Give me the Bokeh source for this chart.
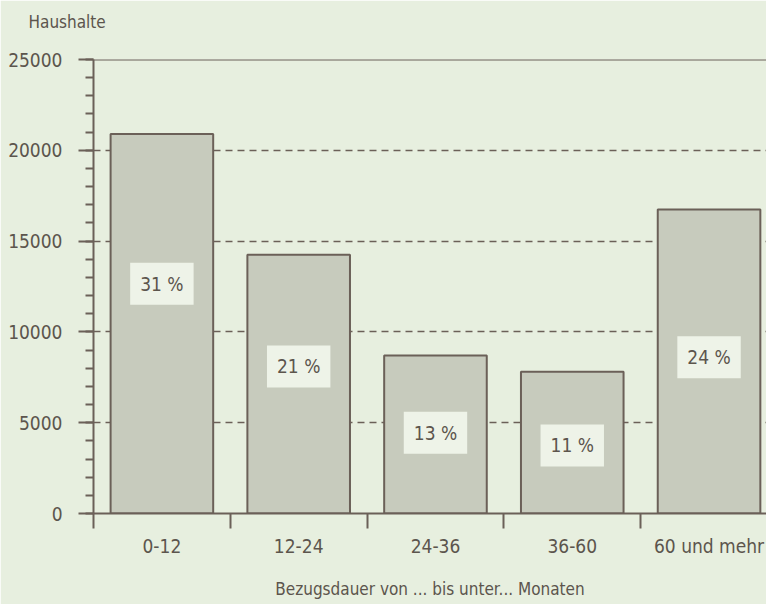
from bokeh.plotting import figure
from bokeh.models import Range1d, FixedTicker, Span, Title, ColumnDataSource
from bokeh.core.properties import value
from bokeh.embed import file_html
from bokeh.resources import INLINE

categories = ["0-12", "12-24", "24-36", "36-60", "60 und mehr"]
households = [20900, 14250, 8700, 7800, 16740]
share_labels = ["31 %", "21 %", "13 %", "11 %", "24 %"]
label_y = [12650, 8100, 4450, 3750, 8600]
y_ticks = [0, 5000, 10000, 15000, 20000, 25000]
grid_levels = [5000, 10000, 15000, 20000]

BG = "#e7efdf"
BAR = "#c7cbbd"
INK = "#6b6058"
TXT = "#5c554d"
FONT = "'DejaVu Sans Condensed', Roboto"

centers = [i + 0.5 for i in range(len(categories))]
src = ColumnDataSource(dict(x=centers, top=households, lab=share_labels, ly=label_y))

p = figure(width=766, height=604, output_backend="svg", toolbar_location=None,
           x_range=Range1d(0, 4.92), y_range=Range1d(0, 25000),
           min_border_left=93, min_border_right=0, min_border_top=59, min_border_bottom=91,
           background_fill_color=BG, border_fill_color=BG, outline_line_color=None)

p.vbar(x="x", top="top", width=0.75, source=src, fill_color=BAR,
       line_color=INK, line_width=2)

p.text(x="x", y="ly", text="lab", source=src, text_align="center", text_baseline="middle",
       text_font=value(FONT), text_font_size="19px", text_color=TXT,
       background_fill_color="#eef3e8", padding=10)

p.add_layout(Span(location=25000, dimension="width", line_color=INK, line_width=2))

# y axis
ya = p.yaxis[0]
ya.ticker = FixedTicker(ticks=y_ticks, minor_ticks=list(range(0, 25001, 1000)))
ya.major_tick_out = 15
ya.major_tick_in = 0
ya.minor_tick_out = 8
ya.minor_tick_in = 0
ya.axis_line_color = INK
ya.axis_line_width = 2
ya.major_tick_line_color = INK
ya.major_tick_line_width = 2
ya.minor_tick_line_color = INK
ya.minor_tick_line_width = 2
ya.major_label_text_font = FONT
ya.major_label_text_font_size = "19px"
ya.major_label_text_color = TXT
ya.major_label_standoff = 16
ya.formatter.use_scientific = False

# x axis
xa = p.xaxis[0]
xa.ticker = FixedTicker(ticks=centers, minor_ticks=[0, 1, 2, 3, 4, 5])
xa.major_label_overrides = {c: lab for c, lab in zip(centers, categories)}
xa.major_tick_out = 0
xa.major_tick_in = 0
xa.minor_tick_out = 15
xa.minor_tick_in = 0
xa.axis_line_color = INK
xa.axis_line_width = 2
xa.minor_tick_line_color = INK
xa.minor_tick_line_width = 2
xa.major_label_text_font = FONT
xa.major_label_text_font_size = "19px"
xa.major_label_text_color = TXT
xa.major_label_standoff = 6
xa.axis_label = "Bezugsdauer von ... bis unter... Monaten"
xa.axis_label_text_font = FONT
xa.axis_label_text_font_size = "17px"
xa.axis_label_text_font_style = "normal"
xa.axis_label_text_color = TXT
xa.axis_label_standoff = 19

p.xgrid.grid_line_color = None
p.ygrid.ticker = FixedTicker(ticks=grid_levels)
p.ygrid.grid_line_color = INK
p.ygrid.grid_line_width = 1.5
p.ygrid.grid_line_dash = "7 5"

p.add_layout(Title(text="Haushalte\n ", align="left", vertical_align="top", offset=-65,
                   standoff=12, text_font=FONT, text_font_size="17px",
                   text_font_style="normal", text_color=TXT), "above")

open("out.html", "w").write(file_html(p, INLINE))
